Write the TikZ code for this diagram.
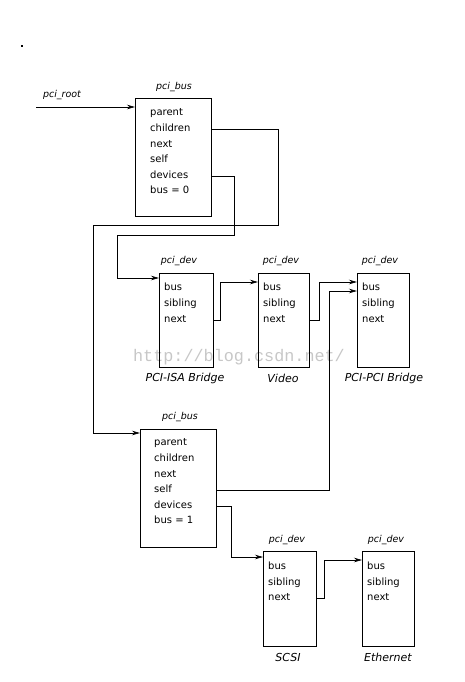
\documentclass[tikz,border=0pt]{standalone}
\usepackage{fontspec}
\setmainfont{DejaVu Sans}
\newfontfamily\wmfont{Liberation Mono}
\usetikzlibrary{arrows.meta}
\begin{document}
\begin{tikzpicture}[x=1pt,y=-1pt,
  box/.style={draw, line width=0.7pt, inner sep=0pt, anchor=north west},
  field/.style={anchor=west, inner sep=0pt, font=\fontsize{10}{11}\selectfont, text height=7pt, text depth=2pt},
  title/.style={inner sep=0pt, font=\fontsize{9.5}{10}\selectfont\itshape},
  caption/.style={inner sep=0pt, font=\fontsize{11}{12}\selectfont\itshape},
  link/.style={draw, line width=0.7pt, -{Stealth[length=8pt,width=4.5pt]}}]
\useasboundingbox (0,0) rectangle (464,682);
\fill (21,45.5) rectangle (23,46.8);
% watermark
\node[inner sep=0pt, text=black!22, font=\wmfont\fontsize{16.8}{17}\selectfont] (wm) at (239,357) {http://blog.csdn.net/};
% bus 0
\node[box, minimum width=76pt, minimum height=118pt] (bus0) at (135,98) {};
\node[title] (bus0t) at (174,87) {pci\_bus};
\node[field] (b0parent) at (150,113) {parent};
\node[field] (b0children) at (150,129) {children};
\node[field] (b0next) at (150,145) {next};
\node[field] (b0self) at (150,160) {self};
\node[field] (b0devices) at (150,176) {devices};
\node[field] (b0bus) at (150,191) {bus = 0};
\node[title] (root) at (62,95) {pci\_root};
\coordinate (rootstart) at (36,107);
% bus 1
\node[box, minimum width=76pt, minimum height=118pt] (bus1) at (140,429) {};
\node[title] (bus1t) at (180,417) {pci\_bus};
\node[field] (b1parent) at (154,443) {parent};
\node[field] (b1children) at (154,459) {children};
\node[field] (b1next) at (154,475) {next};
\node[field] (b1self) at (154,490) {self};
\node[field] (b1devices) at (154,506) {devices};
\node[field] (b1bus) at (154,521) {bus = 1};
% pci_dev ISA
\node[box, minimum width=54pt, minimum height=94pt] (isa) at (159,273) {};
\node[title] (isat) at (179,261) {pci\_dev};
\node[field] (isabus) at (164,288) {bus};
\node[field] (isasib) at (164,304) {sibling};
\node[field] (isanext) at (164,320) {next};
\node[caption] (isac) at (185,378) {PCI-ISA Bridge};
% Video
\node[box, minimum width=51pt, minimum height=94pt] (video) at (258,273) {};
\node[title] (videot) at (281,261) {pci\_dev};
\node[field] (vbus) at (263,288) {bus};
\node[field] (vsib) at (263,304) {sibling};
\node[field] (vnext) at (263,320) {next};
\node[caption] (videoc) at (283,378) {Video};
% PCI-PCI
\node[box, minimum width=52pt, minimum height=94pt] (pp) at (357,273) {};
\node[title] (ppt) at (380,261) {pci\_dev};
\node[field] (ppbus) at (362,288) {bus};
\node[field] (ppsib) at (362,304) {sibling};
\node[field] (ppnext) at (362,320) {next};
\node[caption] (ppc) at (384,378) {PCI-PCI Bridge};
% SCSI
\node[box, minimum width=53pt, minimum height=95pt] (scsi) at (263,551) {};
\node[title] (scsit) at (287,540) {pci\_dev};
\node[field] (sbus) at (268,567) {bus};
\node[field] (ssib) at (268,583) {sibling};
\node[field] (snext) at (268,598) {next};
\node[caption] (scsic) at (288,657) {SCSI};
% Ethernet
\node[box, minimum width=52pt, minimum height=95pt] (eth) at (362,551) {};
\node[title] (etht) at (386,540) {pci\_dev};
\node[field] (ebus) at (367,567) {bus};
\node[field] (esib) at (367,583) {sibling};
\node[field] (enext) at (367,598) {next};
\node[caption] (ethc) at (388,657) {Ethernet};
% connectors
\draw[link] (rootstart) -- (rootstart -| bus0.west);
\draw[link] (bus0.east |- b0children) -| (278,225) -| (93,433) -- (bus1.west |- 0,433);
\draw[link] (bus0.east |- b0devices) -| (234,235) -| (117,278) -- (isa.west |- 0,278);
\draw[link] (isa.east |- isanext) -| (220,282) -- (video.west |- 0,282);
\draw[link] (video.east |- vnext) -| (319,282) -- (pp.west |- 0,282);
\draw[link] (bus1.east |- b1self) -| (329,291) -- (pp.west |- 0,291);
\draw[link] (bus1.east |- b1devices) -| (231,557) -- (scsi.west |- 0,557);
\draw[link] (scsi.east |- snext) -| (324,560) -- (eth.west |- 0,560);
\end{tikzpicture}
\end{document}
